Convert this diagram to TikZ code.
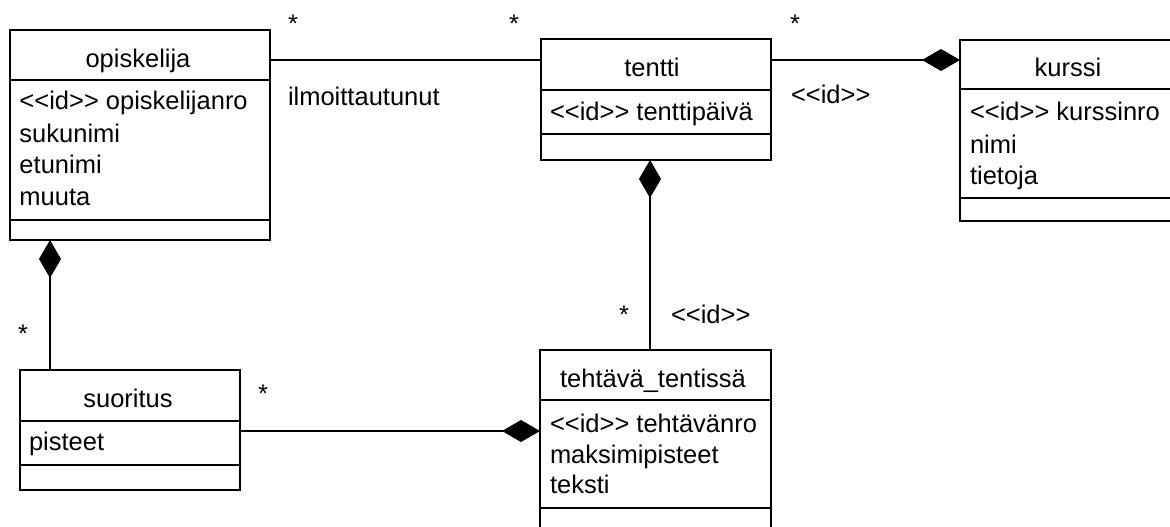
\documentclass[tikz,border=0pt]{standalone}
\usepackage{fontspec}
\setmainfont{Liberation Sans}
\usetikzlibrary{arrows.meta}
\newcommand\idtag{<{}<id>{}>}
\tikzset{
  cls/.style={draw, line width=1.5pt, rectangle, inner sep=0pt, outer sep=0pt, anchor=north west},
  sep/.style={line width=1.5pt},
  conn/.style={line width=1.5pt},
  comp/.style={conn, -{Diamond[length=38pt,width=22pt]}},
  txt/.style={inner sep=0pt, outer sep=0pt, font=\fontsize{25.5}{30}\selectfont},
  ttl/.style={txt, anchor=base},
  attr/.style={txt, anchor=base west},
  mult/.style={txt, anchor=base},
}
\begin{document}
\begin{tikzpicture}[x=1pt,y=-1pt]
\useasboundingbox (0,0) rectangle (1170,527);
\clip (0,0) rectangle (1170,527);
\fill[white] (0,0) rectangle (1170,527);

% opiskelija
\node[cls, minimum width=260pt, minimum height=210pt] (opisk) at (10,30) {};
\draw[sep] (opisk.west |- 0,80) -- (opisk.east |- 0,80);
\draw[sep] (opisk.west |- 0,220) -- (opisk.east |- 0,220);
\node[ttl] (opiskT) at (138,67) {opiskelija};
\node[attr] (opiskA1) at (19.5,110) {\idtag\ opiskelijanro};
\node[attr] (opiskA2) at (19.5,142) {sukunimi};
\node[attr] (opiskA3) at (19.5,173) {etunimi};
\node[attr] (opiskA4) at (19.5,205) {muuta};

% tentti
\node[cls, minimum width=230pt, minimum height=121pt] (tentti) at (541,39) {};
\draw[sep] (tentti.west |- 0,90) -- (tentti.east |- 0,90);
\draw[sep] (tentti.west |- 0,134) -- (tentti.east |- 0,134);
\node[ttl] (tenttiT) at (652,77) {tentti};
\node[attr] (tenttiA1) at (550,120) {\idtag\ tenttipäivä};

% kurssi
\node[cls, minimum width=240pt, minimum height=181pt] (kurssi) at (960,40) {};
\draw[sep] (kurssi.west |- 0,89) -- (kurssi.east |- 0,89);
\draw[sep] (kurssi.west |- 0,198) -- (kurssi.east |- 0,198);
\node[ttl] (kurssiT) at (1068,77) {kurssi};
\node[attr] (kurssiA1) at (970,120) {\idtag\ kurssinro};
\node[attr] (kurssiA2) at (970,153) {nimi};
\node[attr] (kurssiA3) at (970,184) {tietoja};

% suoritus
\node[cls, minimum width=220pt, minimum height=120pt] (suor) at (20,370) {};
\draw[sep] (suor.west |- 0,421) -- (suor.east |- 0,421);
\draw[sep] (suor.west |- 0,465) -- (suor.east |- 0,465);
\node[ttl] (suorT) at (128,407) {suoritus};
\node[attr] (suorA1) at (29,450) {pisteet};

% tehtava_tentissa
\node[cls, minimum width=231pt, minimum height=200pt] (teht) at (540,350) {};
\draw[sep] (teht.west |- 0,400) -- (teht.east |- 0,400);
\draw[sep] (teht.west |- 0,508) -- (teht.east |- 0,508);
\node[ttl] (tehtT) at (653,387) {tehtävä\_tentissä};
\node[attr] (tehtA1) at (550,432) {\idtag\ tehtävänro};
\node[attr] (tehtA2) at (550,463) {maksimipisteet};
\node[attr] (tehtA3) at (550,493) {teksti};

% connectors
\draw[conn] (opisk.east |- 0,60) -- (tentti.west |- 0,60);
\node[mult] (m1) at (293,32.5) {*};
\node[mult] (m2) at (514,32.5) {*};
\node[attr] (lab1) at (288,105) {ilmoittautunut};

\draw[comp] (tentti.east |- 0,60) -- (kurssi.west |- 0,60);
\node[mult] (m3) at (795,32.5) {*};
\node[attr] (lab2) at (791,103) {\idtag};

\draw[comp] (teht.north -| 650,0) -- (tentti.south -| 650,0);
\node[mult] (m4) at (624,323.5) {*};
\node[attr] (lab3) at (671,323) {\idtag};

\draw[comp] (suor.north -| 50,0) -- (opisk.south -| 50,0);
\node[mult] (m5) at (23,342.5) {*};

\draw[comp] (suor.east |- 0,431) -- (teht.west |- 0,431);
\node[mult] (m6) at (263,402.5) {*};
\end{tikzpicture}
\end{document}
